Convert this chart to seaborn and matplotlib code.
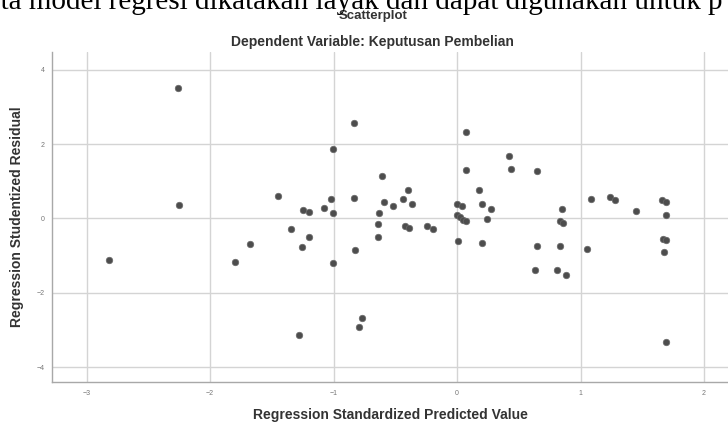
import numpy as np
import pandas as pd
import matplotlib
matplotlib.use('Agg')
import matplotlib.pyplot as plt
import seaborn as sns

# values
pred = [-2.26, -2.25, -2.815, -1.795, -1.676, -1.447, -1.344, -1.249, -1.201, -1.201,
        -1.253, -1.282, -1.074, -1.020, -1.007, -1.001, -1.001, -0.837, -0.837, -0.823,
        -0.772, -0.796, -0.607, -0.588, -0.629, -0.642, -0.637, -0.518, -0.440, -0.399,
        -0.367, -0.421, -0.391, -0.245, -0.192, -0.003, 0.043, -0.003, 0.024, 0.051,
        0.073, 0.005, 0.073, 0.073, 0.181, 0.205, 0.273, 0.240, 0.205, 0.419,
        0.435, 0.650, 0.848, 0.835, 0.860, 0.645, 0.834, 0.632, 0.812, 0.883,
        1.055, 1.083, 1.241, 1.282, 1.449, 1.662, 1.690, 1.690, 1.665, 1.692,
        1.673, 1.690]
resid = [3.50, 0.35, -1.11, -1.18, -0.70, 0.61, -0.28, 0.24, 0.17, -0.51,
         -0.77, -3.15, 0.29, 0.53, 0.16, 1.86, -1.21, 2.58, 0.55, -0.85,
         -2.67, -2.93, 1.15, 0.43, 0.16, -0.15, -0.50, 0.33, 0.51, 0.77,
         0.38, -0.21, -0.25, -0.19, -0.28, 0.40, 0.33, 0.08, 0.03, -0.03,
         -0.07, -0.62, 2.34, 1.31, 0.77, 0.38, 0.26, -0.02, -0.65, 1.69,
         1.32, 1.28, 0.25, -0.08, -0.11, -0.75, -0.75, -1.40, -1.39, -1.52,
         -0.81, 0.51, 0.57, 0.49, 0.19, 0.49, 0.44, 0.10, -0.56, -0.59,
         -0.90, -3.33]
xticks = [-3, -2, -1, 0, 1, 2]
yticks = [-4, -2, 0, 2, 4]

df = pd.DataFrame({'pred': pred, 'resid': resid})

sns.set_style('white')
plt.rcParams['font.family'] = ['Liberation Sans', 'DejaVu Sans']

fig = plt.figure(figsize=(7.28, 4.28), dpi=100)
ax = fig.add_axes([0.0714, 0.1068, 0.9286, 0.7717])

sns.scatterplot(x='pred', y='resid', data=df, ax=ax, s=22, color='#4d4d4d',
                edgecolor='#6a6a6a', linewidth=0.5, zorder=3)

ax.set_xlim(-3.28, 2.194)
ax.set_ylim(-4.41, 4.48)
ax.set_xticks(xticks)
ax.set_yticks(yticks)
ax.grid(True, color='#d4d4d4', linewidth=1.0)
for s in ['top', 'right']:
    ax.spines[s].set_visible(False)
for s in ['left', 'bottom']:
    ax.spines[s].set_color('#a8a8a8')
    ax.spines[s].set_linewidth(1.0)
ax.tick_params(axis='both', labelsize=5, colors='#888888', length=2, direction='out')
ax.tick_params(axis='both', labelcolor='#777777')

ax.set_xlabel('Regression Standardized Predicted Value', fontsize=10,
              fontweight='bold', color='#333333', labelpad=8)
ax.set_ylabel('Regression Studentized Residual', fontsize=10,
              fontweight='bold', color='#333333', labelpad=9)

fig.text(0.512, 0.962, 'Scatterplot', ha='center', va='center', fontsize=9.5,
         fontweight='bold', color='#333333')
fig.text(0.512, 0.901, 'Dependent Variable: Keputusan Pembelian', ha='center',
         va='center', fontsize=10, fontweight='bold', color='#333333')

# cropped line of document text above the chart
fig.text(-0.013, 1 - 9 / 428, 'rta model regresi dikatakan layak dan dapat digunakan untuk p',
         ha='left', va='baseline', fontsize=21, family='Liberation Serif', color='black')

fig.savefig('out.png', dpi=100)
